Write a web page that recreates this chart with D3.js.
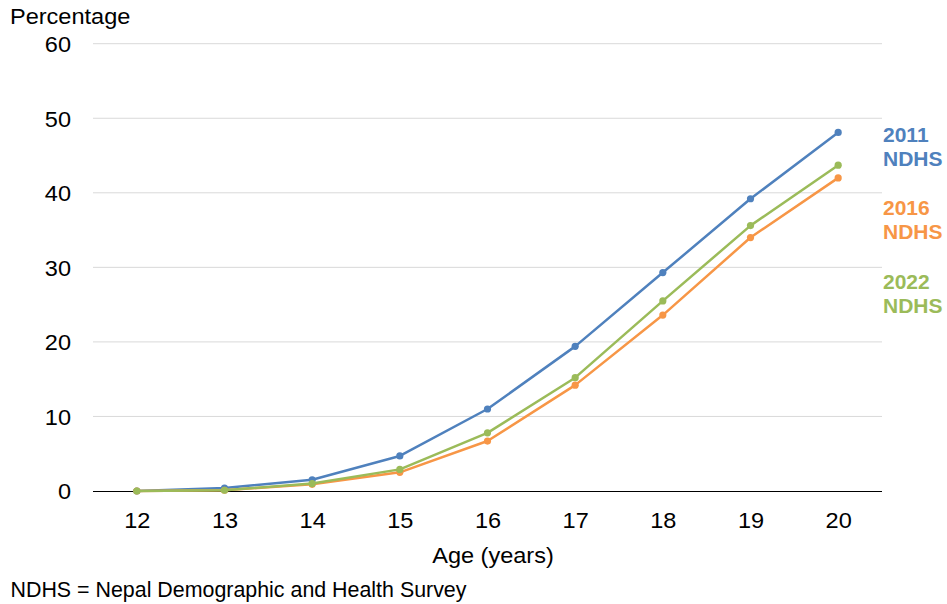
<!DOCTYPE html>
<html>
<head>
<meta charset="utf-8">
<script src="https://cdn.jsdelivr.net/npm/d3@7"></script>
<style>
  body { margin: 0; background: #fff; }
  text { font-family: "Liberation Sans", Arial, sans-serif; }
</style>
</head>
<body>
<script>
const ages = [12, 13, 14, 15, 16, 17, 18, 19, 20];
const ndhs2011 = [0.0, 0.4, 1.5, 4.7, 11.0, 19.4, 29.3, 39.2, 48.1];
const ndhs2016 = [0.0, 0.1, 0.9, 2.5, 6.7, 14.2, 23.6, 34.0, 42.0];
const ndhs2022 = [0.0, 0.1, 1.0, 2.9, 7.8, 15.2, 25.5, 35.6, 43.7];
const seriesNames = ['2011', '2016', '2022'];
const yTicks = [0, 10, 20, 30, 40, 50, 60];

const w = 947;
const h = 604;
const padL = 93, padR = 882, padT = 43.7, padB = 491;
const fs = 22;
const sx = 1.07; // the reference text is a bit wider than Liberation Sans

const series = [
  { name: seriesNames[0], values: ndhs2011, color: '#4F81BD' },
  { name: seriesNames[1], values: ndhs2016, color: '#F79646' },
  { name: seriesNames[2], values: ndhs2022, color: '#9BBB59' }
];

// widen a text element around its own x anchor
function stretch(sel) {
  sel.each(function() {
    const x = +this.getAttribute('x') || 0;
    d3.select(this).attr('x', 0).attr('transform', 'translate(' + x + ',0) scale(' + sx + ',1)');
  });
}

const xScale = d3.scalePoint().domain(ages).range([padL, padR]).padding(0.5);
const yScale = d3.scaleLinear().domain([0, 60]).range([padB, padT]);

const svg = d3.select('body').append('svg').attr('width', w).attr('height', h);

// gridlines
svg.append('g')
   .selectAll('line')
   .data(yTicks.filter(d => d > 0))
   .enter()
   .append('line')
   .attr('x1', padL).attr('x2', padR)
   .attr('y1', d => yScale(d)).attr('y2', d => yScale(d))
   .attr('stroke', '#d9d9d9').attr('stroke-width', 1);

// y axis labels
const yAxis = d3.axisLeft(yScale).tickValues(yTicks).tickSize(0).tickPadding(22);
const yg = svg.append('g').attr('transform', 'translate(' + padL + ',0)').call(yAxis);
yg.select('.domain').remove();
yg.selectAll('text').attr('font-size', fs).attr('fill', '#000').attr('dy', '0.36em')
  .attr('font-family', '"Liberation Sans", Arial, sans-serif').call(stretch);

// x axis
const xAxis = d3.axisBottom(xScale).tickSize(0).tickPadding(21.7);
const xg = svg.append('g').attr('transform', 'translate(0,' + padB + ')').call(xAxis);
xg.select('.domain').attr('d', 'M' + padL + ',0H' + padR).attr('stroke', '#000').attr('stroke-width', 1)
  .attr('shape-rendering', 'crispEdges');
xg.selectAll('text').attr('font-size', fs).attr('fill', '#000')
  .attr('font-family', '"Liberation Sans", Arial, sans-serif').call(stretch);

const line = d3.line().x((d, i) => xScale(ages[i])).y(d => yScale(d));

series.forEach(s => {
  svg.append('path')
     .datum(s.values)
     .attr('d', line)
     .attr('fill', 'none')
     .attr('stroke', s.color)
     .attr('stroke-width', 2.5)
     .attr('stroke-linejoin', 'round');
  svg.append('g')
     .selectAll('circle')
     .data(s.values)
     .enter()
     .append('circle')
     .attr('cx', (d, i) => xScale(ages[i]))
     .attr('cy', d => yScale(d))
     .attr('r', 3.6)
     .attr('fill', s.color);
});

// series labels
const labelY = [141.7, 215, 289];
series.forEach((s, i) => {
  const t = svg.append('text')
     .attr('x', 883).attr('y', labelY[i])
     .attr('font-size', 21).attr('font-weight', 'bold').attr('fill', s.color);
  t.append('tspan').attr('x', 883).text(s.name);
  t.append('tspan').attr('x', 883).attr('dy', 24.3).text('NDHS');
});

svg.append('text').text('Percentage').attr('x', 10).attr('y', 24.3)
   .attr('font-size', fs).attr('fill', '#000').call(stretch);
svg.append('text').text('Age (years)').attr('x', 493).attr('y', 563.3)
   .attr('text-anchor', 'middle').attr('font-size', fs).attr('fill', '#000').call(stretch);
svg.append('text').text('NDHS = Nepal Demographic and Health Survey').attr('x', 10.5).attr('y', 597.3)
   .attr('font-size', 21.4).attr('fill', '#000');
</script>
</body>
</html>
